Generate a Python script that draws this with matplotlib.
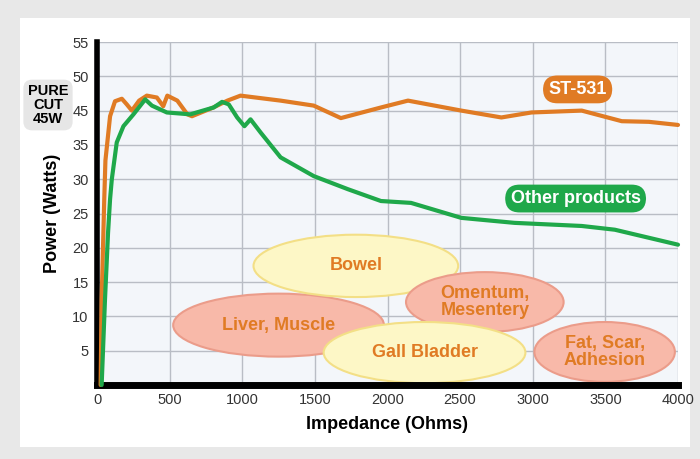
import matplotlib.pyplot as plt
from matplotlib.patches import Ellipse, Rectangle
from matplotlib import font_manager

# Kurven (Impedanz in Ohm, Leistung auf der Skala 0-55)
st531_x = [25, 32, 50, 58, 90, 124, 171, 205, 240, 290, 343, 412, 456, 484, 553, 622,
           654, 801, 898, 988, 1264, 1492, 1679, 1955, 2141, 2508, 2784, 2991, 3337,
           3613, 3799, 4000]
st531_y = [0, 13.7, 29.8, 36, 43.1, 45.5, 45.9, 45.0, 44.0, 45.6, 46.4, 46.1, 44.7, 46.4,
           45.6, 43.4, 43.1, 44.5, 45.6, 46.4, 45.6, 44.8, 42.8, 44.5, 45.6, 44.0, 42.9,
           43.7, 44.0, 42.3, 42.2, 41.7]

other_x = [32, 55, 76, 90, 102, 136, 182, 251, 332, 378, 481, 642, 803, 861, 907, 965,
           1015, 1057, 1126, 1264, 1492, 1727, 1955, 2162, 2508, 2874, 3337, 3565, 4000]
other_y = [0, 13.7, 24.4, 29.8, 33.0, 38.9, 41.5, 43.4, 45.8, 44.8, 43.7, 43.4, 44.5,
           45.4, 45.0, 42.9, 41.5, 42.6, 40.5, 36.5, 33.5, 31.4, 29.5, 29.2, 26.8, 26.0,
           25.5, 24.9, 22.5]

x_ticks = [0, 500, 1000, 1500, 2000, 2500, 3000, 3500, 4000]
y_tick_labels = ['5', '10', '15', '20', '25', '30', '35', '45', '50', '55']

# Gewebe-Ellipsen: Name, Mitte x, Mitte y, Breite, Hoehe, Art
tissue_names = ['Liver, Muscle', 'Bowel', 'Omentum,\nMesentery', 'Gall Bladder',
                'Fat, Scar,\nAdhesion']
tissue_cx = [1250, 1782, 2670, 2255, 3495]
tissue_cy = [9.6, 19.1, 13.3, 5.2, 5.3]
tissue_w = [1451, 1409, 1085, 1389, 967]
tissue_h = [10.1, 10.0, 9.6, 9.8, 9.6]
tissue_kind = ['pink', 'yellow', 'pink', 'yellow', 'pink']

orange = '#e07b24'
green = '#1fa84a'
installed = {f.name for f in font_manager.fontManager.ttflist}
narrow = [n for n in ['Liberation Sans Narrow', 'Liberation Sans', 'DejaVu Sans']
          if n in installed]

fig = plt.figure(figsize=(7, 4.59), dpi=100)
fig.patch.set_facecolor('#e8e8e8')
fig.patches.append(Rectangle((20 / 700, 1 - 447 / 459), 670 / 700, 429 / 459,
                             transform=fig.transFigure, facecolor='white',
                             edgecolor='none', zorder=-5))

ax = fig.add_axes([97 / 700, 1 - 385 / 459, 581 / 700, 343 / 459])
ax.set_facecolor('#f3f6fa')
ax.set_xlim(0, 4000)
ax.set_ylim(0, 55)

ax.set_xticks(x_ticks)
ax.set_xticklabels([str(v) for v in x_ticks], family=narrow, fontsize=10.5, color='#333333')
ax.set_yticks([5.5 * (i + 1) for i in range(len(y_tick_labels))])
ax.set_yticklabels(y_tick_labels, family=narrow, fontsize=10.5, color='#333333')
ax.tick_params(length=0, pad=6)
ax.grid(True, color='#b9bdc5', linewidth=1)
ax.set_axisbelow(True)

for s in ['top', 'right']:
    ax.spines[s].set_visible(False)
ax.spines['left'].set_linewidth(4)
ax.spines['bottom'].set_linewidth(5)

colors = {'pink': ('#f8b9a9', '#eb9c8a'), 'yellow': ('#fdf7c6', '#f3df86')}
for name, cx, cy, w, h, kind in zip(tissue_names, tissue_cx, tissue_cy, tissue_w,
                                    tissue_h, tissue_kind):
    fc, ec = colors[kind]
    ax.add_patch(Ellipse((cx, cy), w, h, facecolor=fc, edgecolor=ec, linewidth=1.5,
                         zorder=2))
    ax.text(cx, cy, name, ha='center', va='center', color=orange, fontsize=13,
            fontweight='bold', family=narrow, linespacing=1.0, zorder=3)

ax.plot(st531_x, st531_y, color=orange, linewidth=3, solid_joinstyle='round',
        solid_capstyle='round', zorder=4, clip_on=False)
ax.plot(other_x, other_y, color=green, linewidth=3, solid_joinstyle='round',
        solid_capstyle='round', zorder=5, clip_on=False)

ax.text(3309, 47.4, 'ST-531', ha='center', va='center', color='white', fontsize=13,
        fontweight='bold', family=narrow, zorder=6,
        bbox=dict(boxstyle='round,pad=0.3,rounding_size=0.8', facecolor=orange,
                  edgecolor='none'))
ax.text(3295, 29.9, 'Other products', ha='center', va='center', color='white',
        fontsize=13, fontweight='bold', family=narrow, zorder=6,
        bbox=dict(boxstyle='round,pad=0.3,rounding_size=0.8', facecolor=green,
                  edgecolor='none'))

ax.set_xlabel('Impedance (Ohms)', fontsize=13, fontweight='bold', family=narrow,
              labelpad=6)
ax.set_ylabel('Power (Watts)', fontsize=13, fontweight='bold', family=narrow,
              labelpad=8)

fig.text(48 / 700, 1 - 105 / 459, 'PURE\nCUT\n45W', ha='center', va='center',
         fontsize=10.5, fontweight='bold', family=narrow, linespacing=1.0,
         bbox=dict(boxstyle='round,pad=0.3,rounding_size=0.6', facecolor='#e6e6e6',
                   edgecolor='none'))

fig.savefig('out.png', dpi=100, facecolor=fig.get_facecolor())
